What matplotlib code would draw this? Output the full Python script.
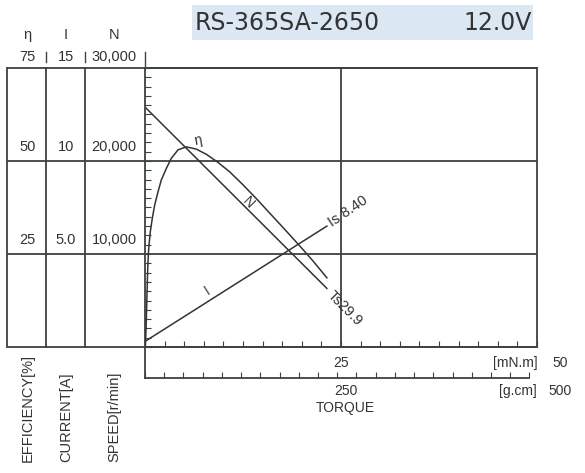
import numpy as np
import matplotlib.pyplot as plt
from matplotlib.patches import Rectangle

plt.rcParams['font.family'] = ['Liberation Sans', 'DejaVu Sans']

model = "RS-365SA-2650"
voltage = "12.0V"

# N line: torque [mN.m] -> speed [r/min]
torque_n = [0, 23.2]
speed = [25800, 6300]

# I line: torque [mN.m] -> current [A]
torque_i = [0, 23.2]
current = [0.3, 6.5]

# efficiency curve
torque_eta = [0.05, 0.15, 0.25, 0.33, 0.42, 0.53, 0.68, 0.93, 1.24, 1.66, 2.08, 2.72,
              3.35, 4.21, 5.27, 6.54, 7.82, 9.2, 10.8, 12.5, 14.2, 15.9, 17.7,
              19.6, 21.4, 23.2]
efficiency = [0.5, 6, 14, 20, 24.8, 27.8, 31.0, 34.6, 38.2, 41.7, 44.9, 48.0,
              50.7, 53.0, 53.8, 53.2, 51.8, 49.8, 47.1, 43.6, 39.9, 36.0, 31.9,
              27.5, 23.2, 18.6]

stall_torque = 29.9
stall_current = 8.40

eta_labels = ['25', '50', '75']
current_labels = ['5.0', '10', '15']
speed_labels = ['10,000', '20,000', '30,000']
speed_levels = [10000, 20000, 30000]

grid_c = '#3c423e'
line_c = '#333333'
txt_c = '#333333'

fig = plt.figure(figsize=(5.85, 4.73), dpi=100)
ax = fig.add_axes([145 / 585, 1 - 347 / 473, 392 / 585, 279 / 473])
ax.set_xlim(0, 50)
ax.set_ylim(0, 30000)

for s in ax.spines.values():
    s.set_color(grid_c)
    s.set_linewidth(1.3)

ax.set_xticks(np.arange(0, 50.1, 2.5))
ax.set_yticks(np.arange(0, 30001, 1000))
ax.tick_params(direction='in', length=4, width=0.8, color=grid_c,
               labelbottom=False, labelleft=False)

# table grid, extended to the left columns
x_left, x_c1, x_c2 = -0.352, -0.2526, -0.1531
ax.hlines([0, 10000, 20000, 30000], x_left, 1, transform=ax.get_yaxis_transform(),
          colors=grid_c, lw=1.3, clip_on=False)
for xc in [x_left, x_c1, x_c2]:
    ax.plot([xc, xc], [0, 1], transform=ax.transAxes, color=grid_c, lw=1.3, clip_on=False)
ax.axvline(25, color=grid_c, lw=1.3)
for xc, y0 in [(x_c1, 1.0215), (x_c2, 1.0215), (0, 1.0)]:
    ax.plot([xc, xc], [y0, 1.057], transform=ax.transAxes, color=grid_c, lw=1.0, clip_on=False)

# column headings and values
cols = [(-0.2997, 'η', eta_labels), (-0.2015, 'I', current_labels), (-0.079, 'N', speed_labels)]
for xc, head, labs in cols:
    ax.text(xc, 1.118, head, transform=ax.transAxes, ha='center', va='center',
            fontsize=10.5, color=txt_c)
    for lab, lev in zip(labs, speed_levels):
        ax.text(xc, lev / 30000 + 0.039 if lev == 30000 else lev / 30000 + 0.05, lab,
                transform=ax.transAxes, ha='center', va='center', fontsize=10.5, color=txt_c)

for xc, lab in [(-0.2997, 'EFFICIENCY[%]'), (-0.2015, 'CURRENT[A]'), (-0.079, 'SPEED[r/min]')]:
    ax.text(xc, -0.412, lab, transform=ax.transAxes, rotation=90, ha='center', va='bottom',
            fontsize=10.5, color=txt_c)

# second torque scale in g.cm
sec = ax.secondary_xaxis(-0.111, functions=(lambda t: t * 10.197, lambda g: g / 10.197))
sec.set_xticks(np.arange(0, 501, 25))
sec.tick_params(direction='in', length=4, width=0.8, color=grid_c, labelbottom=False)
sec.spines['bottom'].set_color(grid_c)
sec.spines['bottom'].set_linewidth(1.3)
sec.spines['bottom'].set_bounds(0, 500)
ax.plot([0, 0], [0, -0.111], transform=ax.transAxes, color=grid_c, lw=1.3, clip_on=False)

xt = ax.get_xaxis_transform()
ax.text(25, -0.057, '25', transform=xt, ha='center', va='center', fontsize=10, color=txt_c)
ax.text(50.1, -0.057, '[mN.m]', transform=xt, ha='right', va='center', fontsize=10, color=txt_c)
ax.text(52.0, -0.057, '50', transform=xt, ha='left', va='center', fontsize=10, color=txt_c)
ax.text(25.6, -0.158, '250', transform=xt, ha='center', va='center', fontsize=10, color=txt_c)
ax.text(50.0, -0.158, '[g.cm]', transform=xt, ha='right', va='center', fontsize=10, color=txt_c)
ax.text(51.4, -0.158, '500', transform=xt, ha='left', va='center', fontsize=10, color=txt_c)
ax.text(25.6, -0.219, 'TORQUE', transform=xt, ha='center', va='center', fontsize=10, color=txt_c)

# curves
ax.plot(torque_n, speed, color=line_c, lw=1.1)

ax_i = ax.twinx()
ax_i.set_ylim(0, 15)
ax_i.axis('off')
ax_i.plot(torque_i, current, color=line_c, lw=1.1)

ax_e = ax.twinx()
ax_e.set_ylim(0, 75)
ax_e.axis('off')
ax_e.plot(torque_eta, efficiency, color=line_c, lw=1.1, solid_joinstyle='round')

# curve labels
pk = int(np.argmax(efficiency))
ax_e.annotate('η', (torque_eta[pk], efficiency[pk]), xytext=(12, 6), textcoords='offset pixels',
              ha='center', va='center', fontsize=10, color=txt_c, rotation=10)
ax.annotate('N', (13.4, np.interp(13.4, torque_n, speed)), xytext=(-2, 9), textcoords='offset pixels',
            ha='center', va='center', fontsize=10, color=txt_c, rotation=-45)
ax_i.annotate('I', (7.9, np.interp(7.9, torque_i, current)), xytext=(0, 12), textcoords='offset pixels',
              ha='center', va='center', fontsize=10, color=txt_c, rotation=32)
ax_i.annotate(f'Is {stall_current:.2f}', (torque_i[-1], current[-1]), xytext=(3, 2),
              textcoords='offset pixels', ha='left', va='center', rotation=34,
              rotation_mode='anchor', fontsize=10.5, color=txt_c)
ax.annotate(f'Ts{stall_torque}', (torque_n[-1], speed[-1]), xytext=(3, -5),
            textcoords='offset pixels', ha='left', va='center', rotation=-45,
            rotation_mode='anchor', fontsize=10.5, color=txt_c)

# title block
fig.add_artist(Rectangle((192 / 585, 1 - 40 / 473), 341 / 585, 35 / 473,
                         transform=fig.transFigure, facecolor='#dbe7f3', edgecolor='none'))
fig.text(195 / 585, 1 - 23 / 473, model, ha='left', va='center', fontsize=17,
         family='DejaVu Sans', color=txt_c)
fig.text(463 / 585, 1 - 23 / 473, voltage, ha='left', va='center', fontsize=17,
         family='DejaVu Sans', color=txt_c)

fig.savefig('out.png', dpi=100)
